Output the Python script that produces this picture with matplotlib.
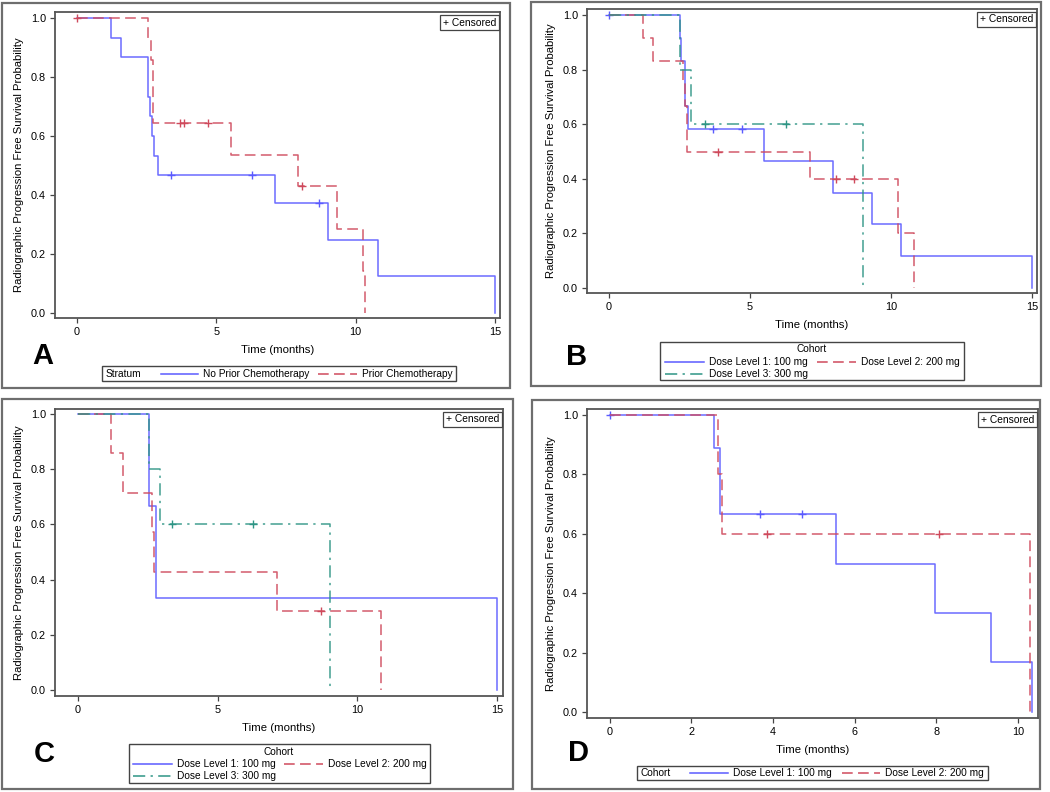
import numpy as np
import matplotlib
matplotlib.use("Agg")
import matplotlib.pyplot as plt
from matplotlib.patches import Rectangle
from matplotlib.lines import Line2D

plt.rcParams['font.family'] = ['Liberation Sans', 'DejaVu Sans']

# ---------------- data ----------------
# Panel A: stratum
A_noprior_t = [0, 1.21, 1.57, 2.53, 2.62, 2.70, 2.77, 2.92, 7.12, 9.02, 10.79, 15.0]
A_noprior_s = [1.0, 0.933, 0.867, 0.733, 0.667, 0.600, 0.533, 0.467, 0.373, 0.249, 0.124, 0.0]
A_noprior_c = [3.39, 6.28, 8.70]
A_prior_t = [0, 2.55, 2.66, 2.72, 5.51, 7.94, 9.32, 10.28, 10.34]
A_prior_s = [1.0, 0.929, 0.857, 0.643, 0.536, 0.429, 0.286, 0.143, 0.0]
A_prior_c = [0, 3.69, 3.83, 4.70, 8.06]

# Panel B: cohort
B_d1_t = [0, 2.51, 2.57, 2.70, 2.80, 5.50, 7.96, 9.33, 10.34, 15.0]
B_d1_s = [1.0, 0.917, 0.833, 0.667, 0.583, 0.467, 0.350, 0.233, 0.117, 0.0]
B_d1_c = [0, 3.69, 4.70]
B_d2_t = [0, 1.20, 1.55, 2.62, 2.70, 2.75, 7.12, 10.26, 10.80]
B_d2_s = [1.0, 0.917, 0.833, 0.75, 0.667, 0.5, 0.4, 0.2, 0.0]
B_d2_c = [3.85, 8.05, 8.70]
B_d3_t = [0, 2.51, 2.91, 9.00]
B_d3_s = [1.0, 0.8, 0.6, 0.0]
B_d3_c = [3.40, 6.27]

# Panel C: cohort
C_d1_t = [0, 2.55, 2.80, 15.0]
C_d1_s = [1.0, 0.667, 0.333, 0.0]
C_d1_c = []
C_d2_t = [0, 1.20, 1.60, 2.65, 2.74, 7.13, 10.83]
C_d2_s = [1.0, 0.857, 0.714, 0.571, 0.429, 0.286, 0.0]
C_d2_c = [8.70]
C_d3_t = [0, 2.55, 2.94, 9.02]
C_d3_s = [1.0, 0.8, 0.6, 0.0]
C_d3_c = [3.38, 6.28]

# Panel D: cohort
D_d1_t = [0, 2.56, 2.69, 5.54, 7.96, 9.34, 10.35]
D_d1_s = [1.0, 0.889, 0.667, 0.5, 0.333, 0.167, 0.0]
D_d1_c = [0, 3.69, 4.70]
D_d2_t = [0, 2.66, 2.74, 10.29]
D_d2_s = [1.0, 0.8, 0.6, 0.0]
D_d2_c = [3.84, 8.07]

x_ticks_15 = [0, 5, 10, 15]
x_ticks_10 = [0, 2, 4, 6, 8, 10]
y_ticks = [0.0, 0.2, 0.4, 0.6, 0.8, 1.0]

lbl_noprior = "No Prior Chemotherapy"
lbl_prior = "Prior Chemotherapy"
lbl_d1 = "Dose Level 1: 100 mg"
lbl_d2 = "Dose Level 2: 200 mg"
lbl_d3 = "Dose Level 3: 300 mg"

# ---------------- styles ----------------
BLUE = '#5b5bff'
RED = '#cf4a5c'
GREEN = '#2e9585'
STY = {
    'blue': dict(color=BLUE, ls='-', dashes=None),
    'red': dict(color=RED, ls='--', dashes=(7, 3.5)),
    'green': dict(color=GREEN, ls='-.', dashes=(8, 3.5, 1.5, 3.5)),
}
W, H = 1050, 792
FS = 7.8
LFS = 7.3

fig = plt.figure(figsize=(W / 100, H / 100), dpi=100)


def fx(px):
    return px / W


def fy(py):
    return 1 - py / H


def frame_box(x0, y0, x1, y1, ec='#6e6e6e', lw=1.6):
    fig.add_artist(Rectangle((fx(x0), fy(y1)), (x1 - x0) / W, (y1 - y0) / H,
                             transform=fig.transFigure, fill=False, ec=ec, lw=lw))


def make_ax(x0, y0, x1, y1, xlim, ylim, xticks):
    ax = fig.add_axes([fx(x0), fy(y1), (x1 - x0) / W, (y1 - y0) / H])
    ax.set_xlim(*xlim)
    ax.set_ylim(*ylim)
    ax.set_xticks(xticks)
    ax.set_yticks(y_ticks)
    ax.set_yticklabels([f"{v:.1f}" for v in y_ticks])
    ax.tick_params(direction='out', length=3.5, width=0.9, color='#444',
                   labelsize=FS, pad=3)
    for sp in ax.spines.values():
        sp.set_color('#555')
        sp.set_linewidth(1.3)
    ax.set_xlabel("Time (months)", fontsize=8.2, labelpad=6)
    ax.set_ylabel("Radiographic Progression Free Survival Probability", fontsize=8.1, labelpad=5)
    ax.text(0.992, 0.982, "+ Censored", transform=ax.transAxes, ha='right', va='top',
            fontsize=7.4, bbox=dict(boxstyle='square,pad=0.25', fc='white', ec='#444', lw=0.9))
    return ax


def km(ax, t, s, c, key):
    st = STY[key]
    ln, = ax.step(t, s, where='post', color=st['color'], lw=1.1, alpha=0.9)
    if st['dashes'] is not None:
        ln.set_dashes(st['dashes'])
    if len(c):
        tt = np.asarray(t)
        ss = np.asarray(s)
        idx = np.searchsorted(tt, np.asarray(c), side='right') - 1
        ax.plot(c, ss[idx], ls='none', marker='+', ms=5.5, mew=1.0, color=st['color'])


def leg_line(x0, x1, y, key):
    st = STY[key]
    l = Line2D([fx(x0), fx(x1)], [fy(y), fy(y)], transform=fig.transFigure,
               color=st['color'], lw=1.1)
    if st['dashes'] is not None:
        l.set_dashes(st['dashes'])
    fig.add_artist(l)


def leg_text(x, y, s, ha='left'):
    fig.text(fx(x), fy(y), s, ha=ha, va='center', fontsize=LFS)


# ---------------- Panel A ----------------
frame_box(2, 3, 510, 388)
axA = make_ax(55, 12, 500, 318, (-0.79, 15.18), (-0.017, 1.02), x_ticks_15)
km(axA, A_noprior_t, A_noprior_s, A_noprior_c, 'blue')
km(axA, A_prior_t, A_prior_s, A_prior_c, 'red')
fig.text(fx(43), fy(356), "A", fontsize=21, fontweight='bold', ha='center', va='center')
frame_box(102, 366, 456, 381, ec='#444', lw=1.0)
leg_text(106, 373.5, "Stratum")
leg_line(161, 198, 373.5, 'blue')
leg_text(203, 373.5, lbl_noprior)
leg_line(318, 357, 373.5, 'red')
leg_text(362, 373.5, lbl_prior)

# ---------------- Panel B ----------------
frame_box(531, 2, 1041, 386)
axB = make_ax(587, 9, 1037, 293, (-0.78, 15.18), (-0.018, 1.022), x_ticks_15)
km(axB, B_d1_t, B_d1_s, B_d1_c, 'blue')
km(axB, B_d2_t, B_d2_s, B_d2_c, 'red')
km(axB, B_d3_t, B_d3_s, B_d3_c, 'green')
fig.text(fx(577), fy(357), "B", fontsize=21, fontweight='bold', ha='center', va='center')
frame_box(660, 342, 964, 380, ec='#444', lw=1.0)
leg_text(812, 349.5, "Cohort", ha='center')
leg_line(665, 704, 362, 'blue')
leg_text(709, 362, lbl_d1)
leg_line(817, 856, 362, 'red')
leg_text(861, 362, lbl_d2)
leg_line(665, 704, 373.5, 'green')
leg_text(709, 373.5, lbl_d3)

# ---------------- Panel C ----------------
frame_box(2, 399, 513, 789)
axC = make_ax(55, 409, 503, 696, (-0.82, 15.21), (-0.022, 1.018), x_ticks_15)
km(axC, C_d1_t, C_d1_s, C_d1_c, 'blue')
km(axC, C_d2_t, C_d2_s, C_d2_c, 'red')
km(axC, C_d3_t, C_d3_s, C_d3_c, 'green')
fig.text(fx(44), fy(754), "C", fontsize=21, fontweight='bold', ha='center', va='center')
frame_box(129, 744, 430, 783, ec='#444', lw=1.0)
leg_text(279, 752, "Cohort", ha='center')
leg_line(133, 172, 764, 'blue')
leg_text(177, 764, lbl_d1)
leg_line(284, 323, 764, 'red')
leg_text(328, 764, lbl_d2)
leg_line(133, 172, 776, 'green')
leg_text(177, 776, lbl_d3)

# ---------------- Panel D ----------------
frame_box(532, 400, 1040, 789)
axD = make_ax(587, 409, 1038, 718, (-0.56, 10.49), (-0.02, 1.02), x_ticks_10)
km(axD, D_d1_t, D_d1_s, D_d1_c, 'blue')
km(axD, D_d2_t, D_d2_s, D_d2_c, 'red')
fig.text(fx(579), fy(753), "D", fontsize=21, fontweight='bold', ha='center', va='center')
frame_box(637, 766, 988, 780, ec='#444', lw=1.0)
leg_text(640, 773, "Cohort")
leg_line(690, 728, 773, 'blue')
leg_text(733, 773, lbl_d1)
leg_line(842, 880, 773, 'red')
leg_text(885, 773, lbl_d2)

fig.savefig("out.png", dpi=100)
